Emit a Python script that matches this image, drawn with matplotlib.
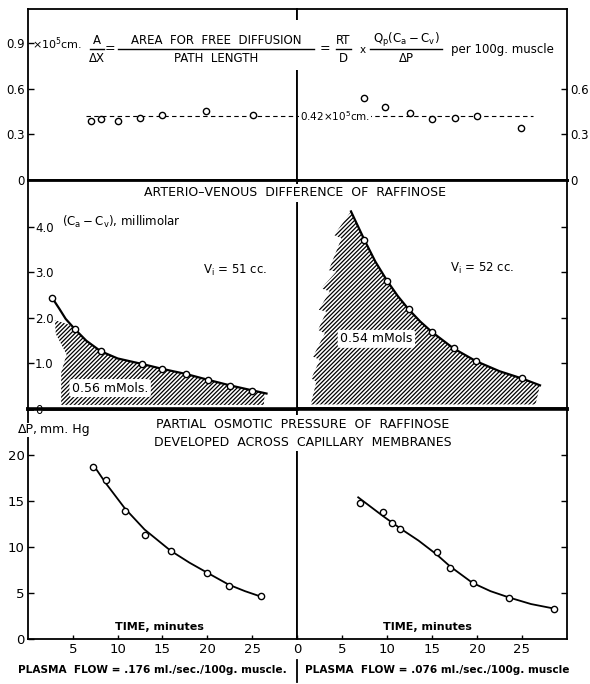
import matplotlib.pyplot as plt
from matplotlib.lines import Line2D
from matplotlib.patches import Rectangle
import numpy as np

plt.rcParams['font.family'] = 'DejaVu Sans'
plt.rcParams['mathtext.default'] = 'regular'
plt.rcParams['hatch.linewidth'] = 0.9

W, H = 590, 684

# A/dX (x10^5 cm per 100 g muscle) for the two experiments
ratio_t_left = [7.0, 8.1, 10.0, 12.5, 15.0, 19.8, 25.1]
ratio_v_left = [0.39, 0.40, 0.39, 0.41, 0.425, 0.45, 0.425]
ratio_t_right = [7.4, 9.8, 12.5, 15.0, 17.6, 20.0, 24.9]
ratio_v_right = [0.54, 0.48, 0.44, 0.40, 0.41, 0.42, 0.34]
ratio_mean = 0.42
mean_span_left = [6.5, 30.0]
mean_span_right = [0.0, 26.2]

# arterio-venous difference (Ca - Cv), millimolar
av_t_left = [2.7, 5.2, 8.1, 12.7, 15.0, 17.6, 20.1, 22.5, 25.0]
av_c_left = [2.44, 1.76, 1.27, 0.99, 0.88, 0.77, 0.64, 0.51, 0.40]
av_fit_t_left = [2.7, 3.5, 4.2, 5.2, 6.5, 8.1, 10.0, 12.7, 15.0, 17.6, 20.1, 22.5, 25.0, 26.6]
av_fit_c_left = [2.44, 2.2, 1.98, 1.76, 1.5, 1.27, 1.11, 0.99, 0.88, 0.77, 0.64, 0.52, 0.41, 0.34]
av_edge_t_left = [26.4, 26.3, 3.7, 3.7, 4.3, 3.1, 3.0, 4.6]
av_edge_c_left = [0.34, 0.09, 0.09, 0.8, 1.2, 1.65, 1.95, 1.85]

av_t_right = [7.5, 10.0, 12.4, 15.0, 17.4, 19.9, 25.0]
av_c_right = [3.71, 2.82, 2.19, 1.69, 1.33, 1.05, 0.69]
av_fit_t_right = [6.0, 7.5, 8.7, 10.0, 11.2, 12.4, 13.7, 15.0, 17.4, 19.9, 22.5, 25.0, 27.0]
av_fit_c_right = [4.34, 3.71, 3.24, 2.82, 2.48, 2.19, 1.92, 1.69, 1.33, 1.05, 0.83, 0.67, 0.52]
av_edge_t_right = [26.5, 1.53, 2.15, 1.6, 2.53, 1.78, 3.09, 2.34, 3.27, 2.42, 3.64, 2.71,
                   4.38, 3.53, 4.94, 4.12]
av_edge_c_right = [0.1, 0.1, 0.60, 0.67, 1.08, 1.15, 1.66, 1.74, 2.14, 2.18, 2.58, 2.65,
                   3.02, 3.05, 3.75, 3.82]

# partial osmotic pressure dP, mm Hg
dp_t_left = [7.3, 8.7, 10.8, 13.0, 15.9, 20.0, 22.4, 26.0]
dp_p_left = [18.7, 17.3, 13.9, 11.3, 9.6, 7.2, 5.8, 4.7]
dp_fit_t_left = [7.3, 8.7, 10.8, 13.0, 15.9, 18.0, 20.0, 22.4, 24.2, 26.0]
dp_fit_p_left = [18.9, 16.9, 14.2, 11.9, 9.6, 8.3, 7.2, 5.9, 5.2, 4.6]

dp_t_right = [7.0, 9.6, 10.6, 11.5, 15.5, 17.0, 19.5, 23.6, 28.6]
dp_p_right = [14.8, 13.8, 12.6, 12.0, 9.5, 7.7, 6.1, 4.5, 3.3]
dp_fit_t_right = [6.8, 9.5, 11.5, 13.5, 15.5, 17.0, 19.5, 21.5, 23.6, 26.0, 28.6]
dp_fit_p_right = [15.4, 13.4, 12.0, 10.7, 9.2, 7.9, 6.1, 5.2, 4.5, 3.8, 3.3]

time_ticks = [5, 10, 15, 20, 25]


def box(x0, y0, x1, y1):
  return [x0 / W, 1 - y1 / H, (x1 - x0) / W, (y1 - y0) / H]


def fx(x):
  return x / W


def fy(y):
  return 1 - y / H


def spines(ax, bottom=1.3, top=1.3):
  for s in ['left', 'right']:
    ax.spines[s].set_linewidth(1.3)
  ax.spines['bottom'].set_linewidth(bottom)
  ax.spines['top'].set_linewidth(top)


def circles(ax, t, v):
  ax.plot(t, v, 'o', ms=4.5, mfc='white', mec='black', mew=1.0, zorder=5)


fig = plt.figure(figsize=(W / 100, H / 100), dpi=100)

ax_tl = fig.add_axes(box(28, 9, 297, 180))
ax_tr = fig.add_axes(box(297, 9, 567, 180))
ax_ml = fig.add_axes(box(28, 180, 297, 409))
ax_mr = fig.add_axes(box(297, 180, 567, 409))
ax_bl = fig.add_axes(box(28, 409, 297, 639))
ax_br = fig.add_axes(box(297, 409, 567, 639))
ax_ml.set_zorder(2)

for ax in [ax_tl, ax_tr, ax_ml, ax_mr, ax_bl, ax_br]:
  ax.set_xlim(0, 30)
  ax.tick_params(direction='in', length=4, width=1.0, labelsize=8.5, pad=2.5)

# top: A/dX
for ax in [ax_tl, ax_tr]:
  ax.set_ylim(0, 1.123)
  ax.set_xticks([])
  spines(ax, bottom=2.0)
ax_tl.set_yticks([0, 0.3, 0.6, 0.9], ['0', '0.3', '0.6', '0.9'])
ax_tr.yaxis.tick_right()
ax_tr.set_yticks([0, 0.3, 0.6], ['0', '0.3', '0.6'])
ax_tl.plot(mean_span_left, [ratio_mean] * 2, color='black', lw=0.8, ls=(0, (4, 3)))
ax_tr.plot(mean_span_right, [ratio_mean] * 2, color='black', lw=0.8, ls=(0, (4, 3)))
circles(ax_tl, ratio_t_left, ratio_v_left)
circles(ax_tr, ratio_t_right, ratio_v_right)
ax_tr.text(0.35, ratio_mean, f'{ratio_mean:.2f}' + r'$\times$10$^5$cm.', fontsize=7.5,
           ha='left', va='center', zorder=6,
           bbox=dict(facecolor='white', edgecolor='none', pad=0.5))

# middle: arterio-venous difference, hatched area under the curve
for ax in [ax_ml, ax_mr]:
  ax.set_ylim(0, 5.03)
  ax.set_xticks([])
  spines(ax, bottom=2.6, top=2.0)
ax_ml.set_yticks([0, 1, 2, 3, 4], ['0', '1.0', '2.0', '3.0', '4.0'])
ax_ml.tick_params(axis='y', pad=-5)
for lab in ax_ml.get_yticklabels():
  lab.set_ha('left')
ax_ml.get_yticklabels()[0].set_bbox(dict(facecolor='white', edgecolor='none', pad=0.3))
ax_mr.yaxis.tick_right()
ax_mr.set_yticks([1, 2, 3, 4], [])

keep = np.array(av_fit_t_left) >= 5.2
ax_ml.fill(np.concatenate([np.array(av_fit_t_left)[keep], av_edge_t_left]),
           np.concatenate([np.array(av_fit_c_left)[keep], av_edge_c_left]),
           facecolor='none', edgecolor='black', hatch='////////', lw=0)
ax_mr.fill(np.concatenate([av_fit_t_right, av_edge_t_right]),
           np.concatenate([av_fit_c_right, av_edge_c_right]),
           facecolor='none', edgecolor='black', hatch='////////', lw=0)
ax_ml.plot(av_fit_t_left, av_fit_c_left, color='black', lw=1.6)
ax_mr.plot(av_fit_t_right, av_fit_c_right, color='black', lw=1.6)
circles(ax_ml, av_t_left, av_c_left)
circles(ax_mr, av_t_right, av_c_right)

mol_box = dict(boxstyle='round,pad=0.2', facecolor='white', edgecolor='none')
ax_ml.text(4.9, 0.46, '0.56 mMols.', fontsize=9, ha='left', va='center', bbox=mol_box, zorder=6)
ax_mr.text(4.8, 1.54, '0.54 mMols', fontsize=9, ha='left', va='center', bbox=mol_box, zorder=6)
ax_ml.text(19.5, 3.05, r'V$_i$ = 51 cc.', fontsize=8.5, ha='left', va='center')
ax_mr.text(17.0, 3.08, r'V$_i$ = 52 cc.', fontsize=8.5, ha='left', va='center')
ax_ml.text(3.8, 4.1, r'(C$_a-$C$_v$), millimolar', fontsize=8.5, ha='left', va='center')

# bottom: partial osmotic pressure
for ax in [ax_bl, ax_br]:
  ax.set_ylim(0, 25.0)
  spines(ax, top=2.6)
  ax.tick_params(axis='x', length=3, labelsize=9.5, pad=3)
ax_bl.set_yticks([0, 5, 10, 15, 20])
ax_bl.tick_params(axis='y', labelsize=9.5)
ax_bl.set_xticks(time_ticks)
ax_br.set_xticks([0] + time_ticks)
ax_br.yaxis.tick_right()
ax_br.set_yticks([5, 10, 15, 20], [])
ax_bl.plot(dp_fit_t_left, dp_fit_p_left, color='black', lw=1.3)
ax_br.plot(dp_fit_t_right, dp_fit_p_right, color='black', lw=1.3)
circles(ax_bl, dp_t_left, dp_p_left)
circles(ax_br, dp_t_right, dp_p_right)
ax_bl.text(14.7, 1.3, 'TIME, minutes', fontsize=8, weight='bold', ha='center', va='center')
ax_br.text(14.5, 1.3, 'TIME, minutes', fontsize=8, weight='bold', ha='center', va='center')

# figure-level lettering
white = dict(facecolor='white', edgecolor='none', pad=1.5)
fig.text(fx(32), fy(44), r'$\times$10$^5$cm.', fontsize=8, ha='left', va='center')
fig.text(fx(295), fy(193), 'ARTERIO\u2013VENOUS  DIFFERENCE  OF  RAFFINOSE', fontsize=9,
         ha='center', va='center', bbox=white, zorder=4)
fig.text(fx(303), fy(433), 'PARTIAL  OSMOTIC  PRESSURE  OF  RAFFINOSE\n'
         'DEVELOPED  ACROSS  CAPILLARY  MEMBRANES', fontsize=9, ha='center',
         va='center', linespacing=1.5, bbox=white, zorder=4)
fig.text(fx(18), fy(430), '\u0394P,', fontsize=9, ha='left', va='center',
         bbox=dict(facecolor='white', edgecolor='none', pad=0.5), zorder=4)
fig.text(fx(40), fy(430), 'mm. Hg', fontsize=9, ha='left', va='center')
fig.text(fx(152), fy(670), 'PLASMA  FLOW = .176 ml./sec./100g. muscle.', fontsize=7.6,
         weight='bold', ha='center', va='center')
fig.text(fx(437), fy(670), 'PLASMA  FLOW = .076 ml./sec./100g. muscle', fontsize=7.6,
         weight='bold', ha='center', va='center')
fig.add_artist(Line2D([fx(297)] * 2, [fy(660), fy(682)], color='black', lw=1.3))

# the diffusion-area equation across the top panel
fig.add_artist(Rectangle((fx(88), fy(70)), fx(560) - fx(88), fy(20) - fy(70),
                         facecolor='white', edgecolor='none', zorder=3))


def fraction(xc, x0, x1, num, den, size=8.5):
  fig.text(fx(xc), fy(40), num, fontsize=size, ha='center', va='center', zorder=4)
  fig.text(fx(xc), fy(58), den, fontsize=size, ha='center', va='center', zorder=4)
  fig.add_artist(Line2D([fx(x0), fx(x1)], [fy(49)] * 2, color='black', lw=1.0, zorder=4))


fraction(97, 90, 104, 'A', '\u0394X')
fig.text(fx(110), fy(49), '=', fontsize=9, ha='center', va='center', zorder=4)
fraction(216, 118, 314, 'AREA  FOR  FREE  DIFFUSION', 'PATH  LENGTH')
fig.text(fx(325), fy(49), '=', fontsize=9, ha='center', va='center', zorder=4)
fraction(343, 336, 351, 'RT', 'D')
fig.text(fx(363), fy(50), 'x', fontsize=7.5, ha='center', va='center', zorder=4)
fraction(406, 370, 442, r'Q$_p$(C$_a-$C$_v$)', '\u0394P')
fig.text(fx(451), fy(49), 'per 100g. muscle', fontsize=8.5, ha='left', va='center', zorder=4)

fig.savefig('out.png', dpi=100)
